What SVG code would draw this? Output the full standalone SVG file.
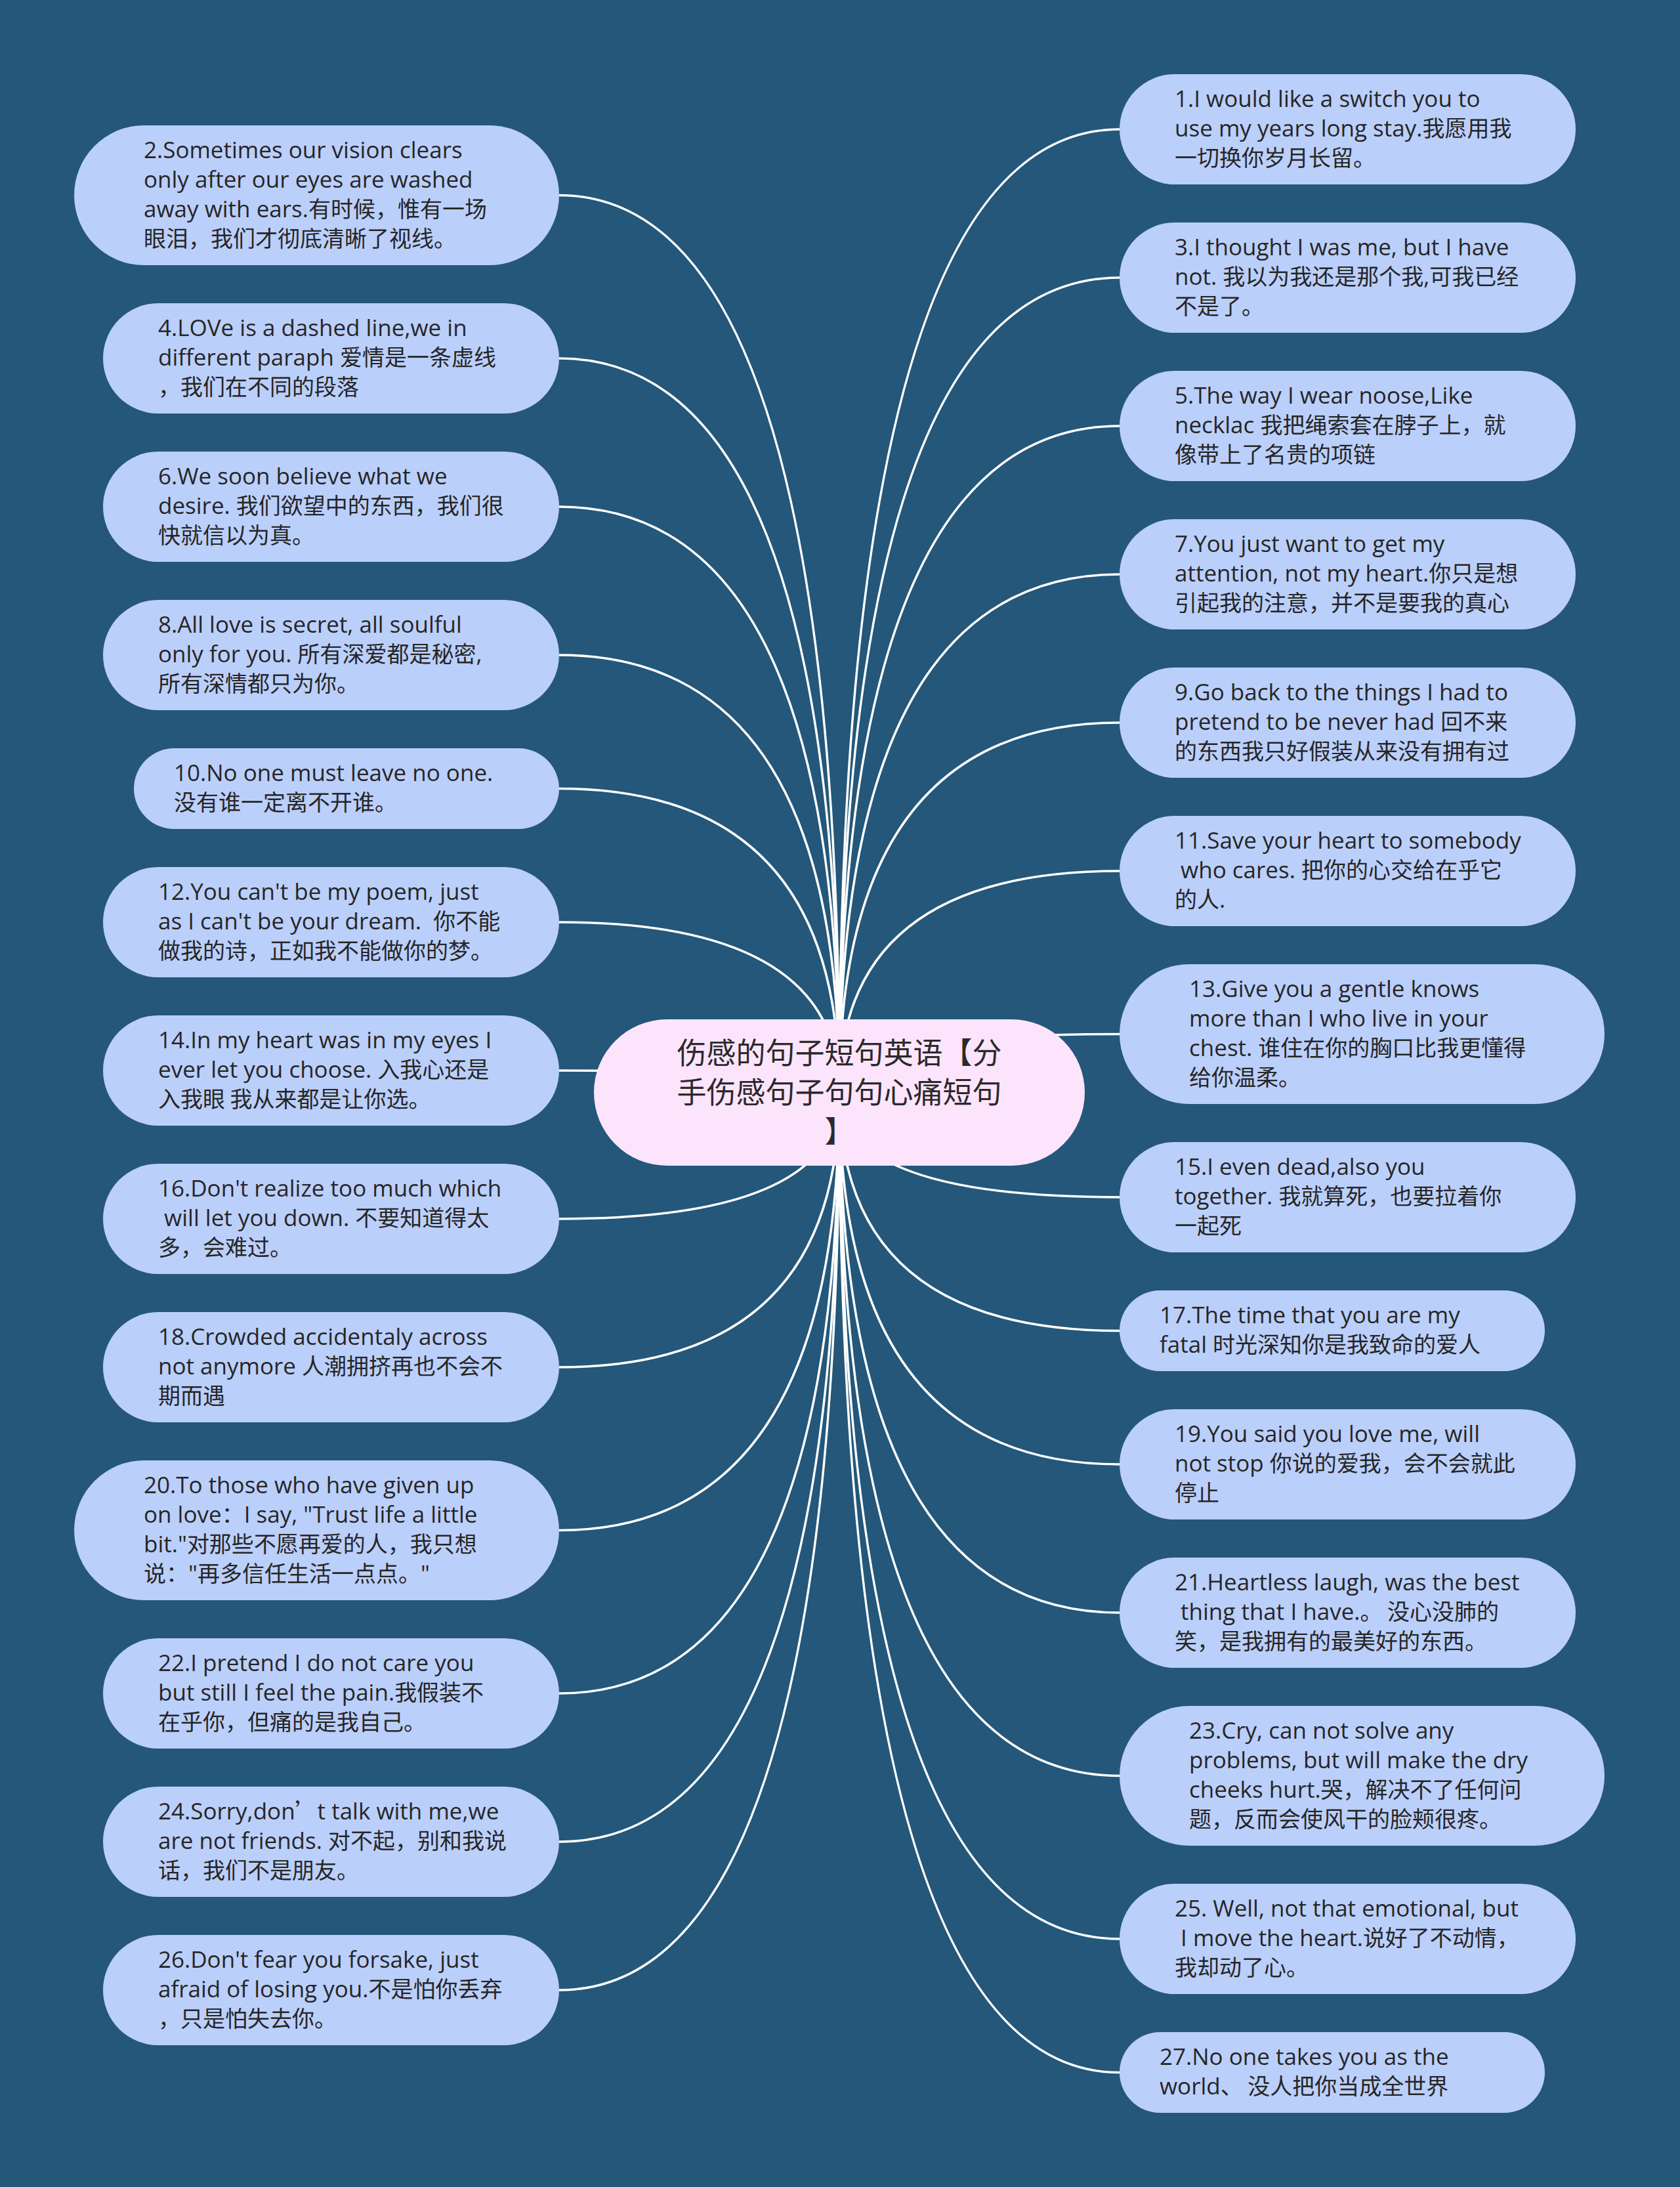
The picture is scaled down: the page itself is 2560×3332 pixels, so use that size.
<svg xmlns="http://www.w3.org/2000/svg" width="2560" height="3332" viewBox="0 0 2560 3332">
<style>
.bg{fill:#245779}
.n{fill:#BBCFFB}
.c{fill:#FCE4FC}
.t{font-family:"Open Sans","Noto Sans CJK SC",sans-serif;font-size:35px;fill:#262626}
.z{font-family:"Noto Sans CJK SC",sans-serif;font-size:34px}
.ct{font-family:"Noto Sans CJK SC",sans-serif;font-size:45px;fill:#2a2a2a;text-anchor:middle}
.e path{fill:none;stroke:#ffffff;stroke-width:3.5}
</style>
<rect class="bg" x="0" y="0" width="2560" height="3332"/>
<g id="connectors" class="e">
<path d="M1279 1664Q1279 197 1706 197"/>
<path d="M1279 1664Q1279 423 1706 423"/>
<path d="M1279 1664Q1279 649 1706 649"/>
<path d="M1279 1664Q1279 875 1706 875"/>
<path d="M1279 1664Q1279 1101 1706 1101"/>
<path d="M1279 1664Q1279 1327 1706 1327"/>
<path d="M1279 1664Q1279 1575.5 1706 1575.5"/>
<path d="M1279 1664Q1279 1824 1706 1824"/>
<path d="M1279 1664Q1279 2027.5 1706 2027.5"/>
<path d="M1279 1664Q1279 2231 1706 2231"/>
<path d="M1279 1664Q1279 2457 1706 2457"/>
<path d="M1279 1664Q1279 2705.5 1706 2705.5"/>
<path d="M1279 1664Q1279 2954 1706 2954"/>
<path d="M1279 1664Q1279 3157.5 1706 3157.5"/>
<path d="M1279 1664Q1279 297.5 852 297.5"/>
<path d="M1279 1664Q1279 546 852 546"/>
<path d="M1279 1664Q1279 772 852 772"/>
<path d="M1279 1664Q1279 998 852 998"/>
<path d="M1279 1664Q1279 1201.5 852 1201.5"/>
<path d="M1279 1664Q1279 1405 852 1405"/>
<path d="M1279 1664Q1279 1631 852 1631"/>
<path d="M1279 1664Q1279 1857 852 1857"/>
<path d="M1279 1664Q1279 2083 852 2083"/>
<path d="M1279 1664Q1279 2331.5 852 2331.5"/>
<path d="M1279 1664Q1279 2580 852 2580"/>
<path d="M1279 1664Q1279 2806 852 2806"/>
<path d="M1279 1664Q1279 3032 852 3032"/>
</g>
<g id="center">
<rect class="c" x="905" y="1553" width="748" height="223" rx="111.5"/>
<text class="ct"><tspan x="1279" y="1621">伤感的句子短句英语【分</tspan><tspan x="1279" y="1681">手伤感句子句句心痛短句</tspan><tspan x="1279" y="1741">】</tspan></text>
</g>
<g id="n1"><rect class="n" x="1706" y="113" width="695" height="168" rx="84"/><text class="t"><tspan x="1790" y="163">1.I would like a switch you to</tspan><tspan x="1790" y="208">use my years long stay.<tspan class="z">我愿用我</tspan></tspan><tspan x="1790" y="253" class="z">一切换你岁月长留。</tspan></text></g>
<g id="n3"><rect class="n" x="1706" y="339" width="695" height="168" rx="84"/><text class="t"><tspan x="1790" y="389">3.I thought I was me, but I have</tspan><tspan x="1790" y="434">not. <tspan class="z">我以为我还是那个我</tspan>,<tspan class="z">可我已经</tspan></tspan><tspan x="1790" y="479" class="z">不是了。</tspan></text></g>
<g id="n5"><rect class="n" x="1706" y="565" width="695" height="168" rx="84"/><text class="t"><tspan x="1790" y="615">5.The way I wear noose,Like</tspan><tspan x="1790" y="660">necklac <tspan class="z">我把绳索套在脖子上，就</tspan></tspan><tspan x="1790" y="705" class="z">像带上了名贵的项链</tspan></text></g>
<g id="n7"><rect class="n" x="1706" y="791" width="695" height="168" rx="84"/><text class="t"><tspan x="1790" y="841">7.You just want to get my</tspan><tspan x="1790" y="886">attention, not my heart.<tspan class="z">你只是想</tspan></tspan><tspan x="1790" y="931" class="z">引起我的注意，并不是要我的真心</tspan></text></g>
<g id="n9"><rect class="n" x="1706" y="1017" width="695" height="168" rx="84"/><text class="t"><tspan x="1790" y="1067">9.Go back to the things I had to</tspan><tspan x="1790" y="1112">pretend to be never had <tspan class="z">回不来</tspan></tspan><tspan x="1790" y="1157" class="z">的东西我只好假装从来没有拥有过</tspan></text></g>
<g id="n11"><rect class="n" x="1706" y="1243" width="695" height="168" rx="84"/><text class="t" xml:space="preserve"><tspan x="1790" y="1293">11.Save your heart to somebody</tspan><tspan x="1790" y="1338"> who cares. <tspan class="z">把你的心交给在乎它</tspan></tspan><tspan x="1790" y="1383"><tspan class="z">的人</tspan>.</tspan></text></g>
<g id="n13"><rect class="n" x="1706" y="1469" width="739" height="213" rx="106.5"/><text class="t"><tspan x="1812" y="1519">13.Give you a gentle knows</tspan><tspan x="1812" y="1564">more than I who live in your</tspan><tspan x="1812" y="1609">chest. <tspan class="z">谁住在你的胸口比我更懂得</tspan></tspan><tspan x="1812" y="1654" class="z">给你温柔。</tspan></text></g>
<g id="n15"><rect class="n" x="1706" y="1740" width="695" height="168" rx="84"/><text class="t"><tspan x="1790" y="1790">15.I even dead,also you</tspan><tspan x="1790" y="1835">together. <tspan class="z">我就算死，也要拉着你</tspan></tspan><tspan x="1790" y="1880" class="z">一起死</tspan></text></g>
<g id="n17"><rect class="n" x="1706" y="1966" width="648" height="123" rx="61.5"/><text class="t"><tspan x="1767" y="2016">17.The time that you are my</tspan><tspan x="1767" y="2061">fatal <tspan class="z">时光深知你是我致命的爱人</tspan></tspan></text></g>
<g id="n19"><rect class="n" x="1706" y="2147" width="695" height="168" rx="84"/><text class="t"><tspan x="1790" y="2197">19.You said you love me, will</tspan><tspan x="1790" y="2242">not stop <tspan class="z">你说的爱我，会不会就此</tspan></tspan><tspan x="1790" y="2287" class="z">停止</tspan></text></g>
<g id="n21"><rect class="n" x="1706" y="2373" width="695" height="168" rx="84"/><text class="t" xml:space="preserve"><tspan x="1790" y="2423">21.Heartless laugh, was the best</tspan><tspan x="1790" y="2468"> thing that I have.<tspan class="z">。 没心没肺的</tspan></tspan><tspan x="1790" y="2513" class="z">笑，是我拥有的最美好的东西。</tspan></text></g>
<g id="n23"><rect class="n" x="1706" y="2599" width="739" height="213" rx="106.5"/><text class="t"><tspan x="1812" y="2649">23.Cry, can not solve any</tspan><tspan x="1812" y="2694">problems, but will make the dry</tspan><tspan x="1812" y="2739">cheeks hurt.<tspan class="z">哭，解决不了任何问</tspan></tspan><tspan x="1812" y="2784" class="z">题，反而会使风干的脸颊很疼。</tspan></text></g>
<g id="n25"><rect class="n" x="1706" y="2870" width="695" height="168" rx="84"/><text class="t" xml:space="preserve"><tspan x="1790" y="2920">25. Well, not that emotional, but</tspan><tspan x="1790" y="2965"> I move the heart.<tspan class="z">说好了不动情，</tspan></tspan><tspan x="1790" y="3010" class="z">我却动了心。</tspan></text></g>
<g id="n27"><rect class="n" x="1706" y="3096" width="648" height="123" rx="61.5"/><text class="t"><tspan x="1767" y="3146">27.No one takes you as the</tspan><tspan x="1767" y="3191">world<tspan class="z">、 没人把你当成全世界</tspan></tspan></text></g>
<g id="n2"><rect class="n" x="113" y="191" width="739" height="213" rx="106.5"/><text class="t"><tspan x="219" y="241">2.Sometimes our vision clears</tspan><tspan x="219" y="286">only after our eyes are washed</tspan><tspan x="219" y="331">away with ears.<tspan class="z">有时候，惟有一场</tspan></tspan><tspan x="219" y="376" class="z">眼泪，我们才彻底清晰了视线。</tspan></text></g>
<g id="n4"><rect class="n" x="157" y="462" width="695" height="168" rx="84"/><text class="t"><tspan x="241" y="512">4.LOVe is a dashed line,we in</tspan><tspan x="241" y="557">different paraph <tspan class="z">爱情是一条虚线</tspan></tspan><tspan x="241" y="602" class="z">，我们在不同的段落</tspan></text></g>
<g id="n6"><rect class="n" x="157" y="688" width="695" height="168" rx="84"/><text class="t"><tspan x="241" y="738">6.We soon believe what we</tspan><tspan x="241" y="783">desire. <tspan class="z">我们欲望中的东西，我们很</tspan></tspan><tspan x="241" y="828" class="z">快就信以为真。</tspan></text></g>
<g id="n8"><rect class="n" x="157" y="914" width="695" height="168" rx="84"/><text class="t"><tspan x="241" y="964">8.All love is secret, all soulful</tspan><tspan x="241" y="1009">only for you. <tspan class="z">所有深爱都是秘密</tspan>,</tspan><tspan x="241" y="1054" class="z">所有深情都只为你。</tspan></text></g>
<g id="n10"><rect class="n" x="204" y="1140" width="648" height="123" rx="61.5"/><text class="t"><tspan x="265" y="1190">10.No one must leave no one.</tspan><tspan x="265" y="1235" class="z">没有谁一定离不开谁。</tspan></text></g>
<g id="n12"><rect class="n" x="157" y="1321" width="695" height="168" rx="84"/><text class="t" xml:space="preserve"><tspan x="241" y="1371">12.You can't be my poem, just</tspan><tspan x="241" y="1416">as I can't be your dream.  <tspan class="z">你不能</tspan></tspan><tspan x="241" y="1461" class="z">做我的诗，正如我不能做你的梦。</tspan></text></g>
<g id="n14"><rect class="n" x="157" y="1547" width="695" height="168" rx="84"/><text class="t"><tspan x="241" y="1597">14.In my heart was in my eyes I</tspan><tspan x="241" y="1642">ever let you choose. <tspan class="z">入我心还是</tspan></tspan><tspan x="241" y="1687" class="z">入我眼 我从来都是让你选。</tspan></text></g>
<g id="n16"><rect class="n" x="157" y="1773" width="695" height="168" rx="84"/><text class="t" xml:space="preserve"><tspan x="241" y="1823">16.Don't realize too much which</tspan><tspan x="241" y="1868"> will let you down. <tspan class="z">不要知道得太</tspan></tspan><tspan x="241" y="1913" class="z">多，会难过。</tspan></text></g>
<g id="n18"><rect class="n" x="157" y="1999" width="695" height="168" rx="84"/><text class="t"><tspan x="241" y="2049">18.Crowded accidentaly across</tspan><tspan x="241" y="2094">not anymore <tspan class="z">人潮拥挤再也不会不</tspan></tspan><tspan x="241" y="2139" class="z">期而遇</tspan></text></g>
<g id="n20"><rect class="n" x="113" y="2225" width="739" height="213" rx="106.5"/><text class="t"><tspan x="219" y="2275">20.To those who have given up</tspan><tspan x="219" y="2320">on love<tspan class="z">：</tspan>I say, "Trust life a little</tspan><tspan x="219" y="2365">bit."<tspan class="z">对那些不愿再爱的人，我只想</tspan></tspan><tspan x="219" y="2410"><tspan class="z">说：</tspan>"<tspan class="z">再多信任生活一点点。</tspan>"</tspan></text></g>
<g id="n22"><rect class="n" x="157" y="2496" width="695" height="168" rx="84"/><text class="t"><tspan x="241" y="2546">22.I pretend I do not care you</tspan><tspan x="241" y="2591">but still I feel the pain.<tspan class="z">我假装不</tspan></tspan><tspan x="241" y="2636" class="z">在乎你，但痛的是我自己。</tspan></text></g>
<g id="n24"><rect class="n" x="157" y="2722" width="695" height="168" rx="84"/><text class="t"><tspan x="241" y="2772">24.Sorry,don<tspan class="z">’</tspan>t talk with me,we</tspan><tspan x="241" y="2817">are not friends. <tspan class="z">对不起，别和我说</tspan></tspan><tspan x="241" y="2862" class="z">话，我们不是朋友。</tspan></text></g>
<g id="n26"><rect class="n" x="157" y="2948" width="695" height="168" rx="84"/><text class="t"><tspan x="241" y="2998">26.Don't fear you forsake, just</tspan><tspan x="241" y="3043">afraid of losing you.<tspan class="z">不是怕你丢弃</tspan></tspan><tspan x="241" y="3088" class="z">，只是怕失去你。</tspan></text></g>
</svg>
